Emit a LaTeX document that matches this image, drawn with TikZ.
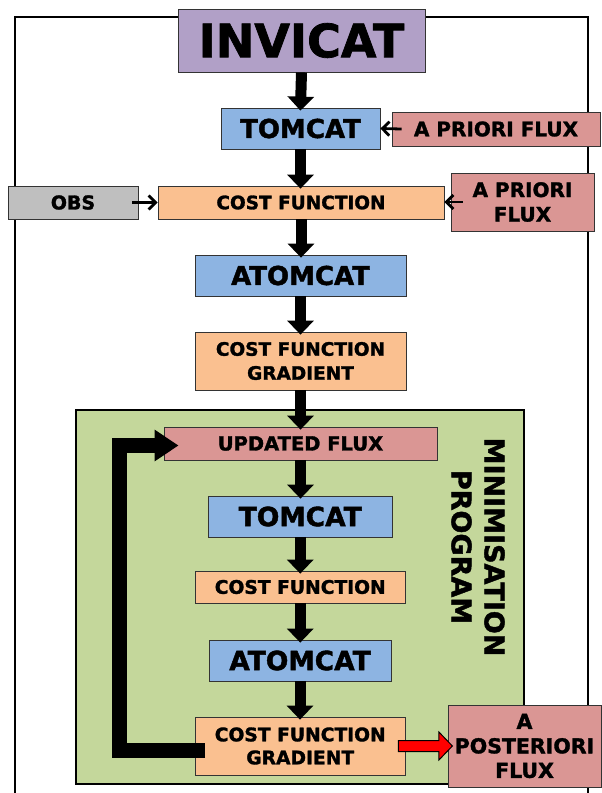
\documentclass[tikz,border=0pt]{standalone}
\usepackage{fontspec}
\setmainfont{DejaVu Sans}[BoldFeatures={FakeBold=1.6}]
\usetikzlibrary{arrows.meta,calc}
\definecolor{cpurple}{HTML}{B1A0C7}
\definecolor{cblue}{HTML}{8DB4E2}
\definecolor{corange}{HTML}{FAC090}
\definecolor{cpink}{HTML}{DA9694}
\definecolor{cgray}{HTML}{BFBFBF}
\definecolor{cgreen}{HTML}{C4D79B}
\definecolor{cred}{HTML}{FF0000}
\tikzset{
  box/.style={draw=black!80, line width=0.8pt, inner sep=0pt, align=center, font=\bfseries},
  bigarrow/.style={line width=11pt, -{Triangle[width=26pt,length=14pt]}, shorten >=-3pt},
  thinarrow/.style={line width=2.8pt, -{Straight Barb[length=7pt,width=14pt]}},
  looparrow/.style={line width=15pt, line join=miter, -{Triangle[width=30pt,length=24pt]}},
}
\begin{document}
\begin{tikzpicture}[x=1pt,y=-1pt]
\useasboundingbox (0,0) rectangle (602,793);
% outer frame
\draw[line width=1.6pt] (15,800) -- (15,17) -- (588,17) -- (588,800);
% green minimisation area
\draw[line width=1.4pt, fill=cgreen] (76,410) rectangle (524,784);
\node[rotate=-90, align=center, font={\fontsize{27}{33}\selectfont\bfseries}] (minprog) at (478,547) {MINIMISATION\\PROGRAM};
% nodes
\node[box, fill=cpurple, minimum width=247pt, minimum height=63pt, font={\fontsize{46}{50}\selectfont\bfseries}] (inv) at (301.5,40.5) {INVICAT};
\node[box, fill=cblue, minimum width=159pt, minimum height=41pt, font={\fontsize{26}{30}\selectfont\bfseries}] (tom1) at (300.5,128.5) {TOMCAT};
\node[box, fill=cpink, minimum width=208pt, minimum height=34pt, font={\fontsize{20}{24}\selectfont\bfseries}] (apf1) at (496,129) {A PRIORI FLUX};
\node[box, fill=cgray, minimum width=130pt, minimum height=33pt, font={\fontsize{19}{23}\selectfont\bfseries}] (obs) at (73,202.5) {OBS};
\node[box, fill=corange, minimum width=286pt, minimum height=33pt, font={\fontsize{18.5}{23.5}\selectfont\bfseries}] (cf1) at (301,202.5) {COST FUNCTION};
\node[box, fill=cpink, minimum width=143pt, minimum height=58pt, font={\fontsize{20}{24.5}\selectfont\bfseries}] (apf2) at (522.5,202) {A PRIORI\\FLUX};
\node[box, fill=cblue, minimum width=211pt, minimum height=41pt, font={\fontsize{26}{30}\selectfont\bfseries}] (atom1) at (300.5,275.5) {ATOMCAT};
\node[box, fill=corange, minimum width=211pt, minimum height=58pt, font={\fontsize{18.5}{24}\selectfont\bfseries}] (cfg1) at (300.5,361) {COST FUNCTION\\GRADIENT};
\node[box, fill=cpink, minimum width=273pt, minimum height=33pt, font={\fontsize{19.5}{23}\selectfont\bfseries}] (uf) at (300.5,443.5) {UPDATED FLUX};
\node[box, fill=cblue, minimum width=184.5pt, minimum height=41pt, font={\fontsize{26.5}{30}\selectfont\bfseries}] (tom2) at (300.25,516.5) {TOMCAT};
\node[box, fill=corange, minimum width=209.5pt, minimum height=32pt, font={\fontsize{18.7}{23}\selectfont\bfseries}] (cf2) at (300.25,587) {COST FUNCTION};
\node[box, fill=cblue, minimum width=182pt, minimum height=41pt, font={\fontsize{26.5}{30}\selectfont\bfseries}] (atom2) at (300,660.5) {ATOMCAT};
\node[box, fill=corange, minimum width=209.5pt, minimum height=58pt, font={\fontsize{18.7}{23}\selectfont\bfseries}] (cfg2) at (300.25,746) {COST FUNCTION\\GRADIENT};
\node[box, fill=cpink, minimum width=153pt, minimum height=82pt, font={\fontsize{20.5}{24.5}\selectfont\bfseries}] (apost) at (524.5,746) {A\\POSTERIORI\\FLUX};
% main vertical arrows
\draw[bigarrow] (inv.south) -- (tom1.north);
\draw[bigarrow] (tom1.south) -- (tom1.south |- cf1.north);
\draw[bigarrow] (cf1.south) -- (cf1.south |- atom1.north);
\draw[bigarrow] (atom1.south) -- (cfg1.north);
\draw[bigarrow] (cfg1.south) -- (uf.north);
\draw[bigarrow] (uf.south) -- (uf.south |- tom2.north);
\draw[bigarrow] (tom2.south) -- (tom2.south |- cf2.north);
\draw[bigarrow] (cf2.south) -- (cf2.south |- atom2.north);
\draw[bigarrow] (atom2.south) -- (atom2.south |- cfg2.north);
% thin arrows
\draw[thinarrow] ($(apf1.west)+(10,0)$) -- (tom1.east);
\draw[thinarrow] ($(obs.east)+(-6,0)$) -- (cf1.west);
\draw[thinarrow] ($(apf2.west)+(12,0)$) -- (apf2.west -| cf1.east);
% loop arrow
\draw[looparrow] ($(cfg2.west)+(10,4)$) -| (119.5,445.5) -- ($(uf.west)+(15,2)$);
% red output arrow
\draw[line width=1pt, fill=cred, line join=miter]
  ($(cfg2.east)+(-7,-5.5)$) -- ($(cfg2.east)+(33.5,-5.5)$) -- ($(cfg2.east)+(33.5,-14)$)
  -- ($(cfg2.east)+(47,0)$) -- ($(cfg2.east)+(33.5,14)$) -- ($(cfg2.east)+(33.5,5.5)$)
  -- ($(cfg2.east)+(-7,5.5)$) -- cycle;
\end{tikzpicture}
\end{document}
